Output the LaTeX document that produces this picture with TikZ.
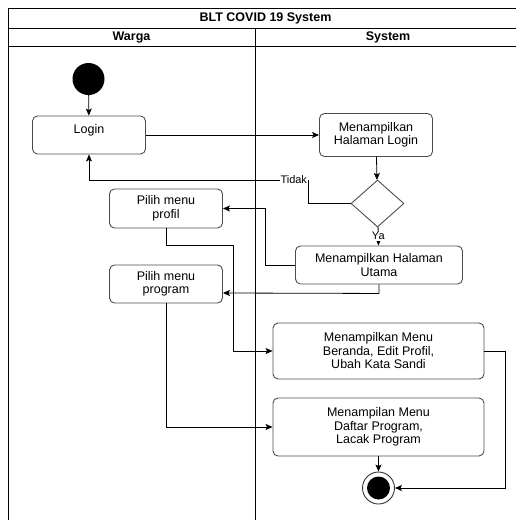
\documentclass[tikz,border=0pt]{standalone}
\usepackage{fontspec}
\setmainfont{Liberation Sans}
\usetikzlibrary{arrows.meta,%
                shapes,positioning,calc}

\begin{document}
\begin{tikzpicture}[x = 1pt, y = -1pt]
  \tikzset{LaneStyle/.style   = {line width     = 0.9pt,
                                 draw           = black}}
  \tikzset{TitleStyle/.style  = {font           = \bfseries\fontsize{12.5}{14}\selectfont,
                                 inner sep      = 0pt}}
  \tikzset{ActStyle/.style    = {draw           = black!70,
                                 line width     = 0.9pt,
                                 rounded corners= 5pt,
                                 align          = center,
                                 inner sep      = 0pt,
                                 font           = \fontsize{12.5}{13.5}\selectfont}}
  \tikzset{FlowStyle/.style   = {line width     = 0.8pt,
                                 -{Stealth[length = 7pt, width = 6pt, inset = 1.5pt]}}}
  \tikzset{LabelStyle/.style  = {fill           = white,
                                 inner sep      = 0.6pt,
                                 font           = \fontsize{11}{12}\selectfont}}
  \useasboundingbox (0,0) rectangle (516,520);
  \clip (0,0) rectangle (516,520);
  % swimlanes
     \draw[LaneStyle] (8,530) -- (8,8) -- (530,8);
     \draw[LaneStyle] (8,28) -- (530,28);
     \draw[LaneStyle] (8,46) -- (530,46);
     \draw[LaneStyle] (255,28) -- (255,530);
     \node[TitleStyle](title) at (265.5,18){BLT COVID 19 System};
     \node[TitleStyle](warga) at (131.5,37.5){Warga};
     \node[TitleStyle](system) at (388,37.5){System};

     \node[circle, fill = black, minimum size = 32pt, inner sep = 0pt](start) at (88.5,79){};
     \node[ActStyle, minimum width = 113pt, minimum height = 38pt](login) at (89,135){\raisebox{12pt}{Login}};
     \node[ActStyle, minimum width = 113pt, minimum height = 43pt](hallogin) at (376,135){Menampilkan\\Halaman Login};
     \node[diamond, draw = black!70, line width = 0.9pt, minimum width = 53pt,
           minimum height = 47pt, inner sep = 0pt](cek) at (377.5,203.5){};
     \node[ActStyle, minimum width = 113pt, minimum height = 39pt](profil) at (166,208.5){Pilih menu\\profil};
     \node[ActStyle, minimum width = 167pt, minimum height = 38pt](utama) at (379,265){Menampilkan Halaman\\Utama};
     \node[ActStyle, minimum width = 113pt, minimum height = 38pt](program) at (166,284){Pilih menu\\program};
     \node[ActStyle, minimum width = 211pt, minimum height = 56pt](beranda) at (378.5,351){Menampilkan Menu\\Beranda, Edit Profil,\\Ubah Kata Sandi};
     \node[ActStyle, minimum width = 211pt, minimum height = 58pt](daftar) at (378.5,427){Menampilan Menu\\Daftar Program,\\Lacak Program};
     \node[circle, draw = black!80, line width = 0.9pt, minimum size = 32pt, inner sep = 0pt,
           path picture = {\fill[black] (path picture bounding box.center) circle (11.5pt);}](end) at (378.5,488){};

     \coordinate (tidak) at (308,180);
     \coordinate (belok) at (233,245);

     \draw[FlowStyle](start) -- (login);
     \draw[FlowStyle](login) -- (hallogin);
     \draw[FlowStyle](hallogin) -- (cek);
     \draw[FlowStyle](cek) -- node[LabelStyle, pos = 0.5]{Ya} (utama);
     \draw[FlowStyle](cek.west) -| (tidak) -| node[LabelStyle, pos = 0, anchor = east]{Tidak} (login.south);
     \draw[FlowStyle](utama.west) -- ++(-30,0) |- (profil.east);
     \draw[FlowStyle](utama.south) -- ++(0,9) -- ($(program.east)+(0,9)$);
     \draw[FlowStyle](profil.south) |- (belok) |- (beranda.west);
     \draw[FlowStyle](program.south) |- (daftar.west);
     \draw[FlowStyle](daftar) -- (end);
     \draw[FlowStyle](beranda.east) -- ++(21,0) |- (end.east);
\end{tikzpicture}
\end{document}
